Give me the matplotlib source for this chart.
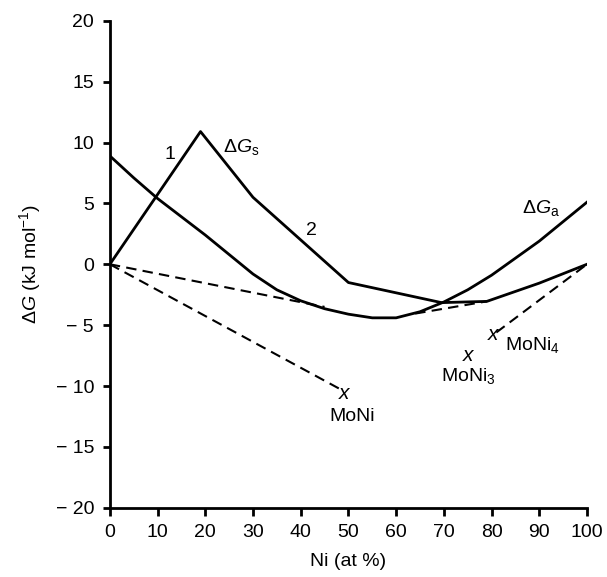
import matplotlib
matplotlib.use("Agg")
import matplotlib.pyplot as plt
from matplotlib.ticker import FuncFormatter

plt.rcParams['font.family'] = ['Liberation Sans', 'DejaVu Sans']
plt.rcParams['mathtext.fontset'] = 'custom'
plt.rcParams['mathtext.rm'] = 'Liberation Sans'
plt.rcParams['mathtext.it'] = 'Liberation Sans:italic'

# solid curves
gs_x = [0, 19, 30, 40, 50, 69.5, 79, 90, 100]
gs_y = [0, 10.9, 5.5, 2.0, -1.5, -3.15, -3.05, -1.55, 0]

ga_x = [0, 5, 10, 15, 20, 25, 30, 35, 40, 45, 50, 55, 60, 65, 70, 75, 80, 85, 90, 95, 100]
ga_y = [8.9, 7.1, 5.4, 3.9, 2.4, 0.8, -0.8, -2.1, -3.0, -3.65, -4.1, -4.4, -4.4, -3.9, -3.1, -2.1, -0.9, 0.5, 1.9, 3.5, 5.1]

# dashed tie lines
tie1_x, tie1_y = [0, 45], [0, -3.5]
tie2_x, tie2_y = [0, 48], [0, -10.2]
tie3_x, tie3_y = [64, 79], [-4.05, -3.05]
tie4_x, tie4_y = [81, 100], [-5.6, 0]

# compounds
comp_x = [49, 75, 80.3]
comp_y = [-10.6, -7.5, -5.8]


def minus_fmt(v, pos):
    if v < 0:
        return '\u2212 %d' % abs(v)
    return '%d' % v


fig = plt.figure(figsize=(6.07, 5.77), dpi=100)
ax = fig.add_axes([0.181, 0.12, 0.786, 0.844])

ax.plot(gs_x, gs_y, color='black', lw=2.0)
ax.plot(ga_x, ga_y, color='black', lw=2.0)
for tx, ty in [(tie1_x, tie1_y), (tie2_x, tie2_y), (tie3_x, tie3_y), (tie4_x, tie4_y)]:
    ax.plot(tx, ty, color='black', lw=1.5, ls=(0, (5, 3)))
for cx, cy in zip(comp_x, comp_y):
    ax.text(cx, cy, 'x', fontsize=15, style='italic', ha='center', va='center')

ax.text(12.6, 9.0, '1', fontsize=14, ha='center', va='center')
ax.text(27.5, 9.6, r'$\Delta G_\mathrm{s}$', fontsize=14, ha='center', va='center')
ax.text(42.3, 2.8, '2', fontsize=14, ha='center', va='center')
ax.text(90.3, 4.6, r'$\Delta G_\mathrm{a}$', fontsize=14, ha='center', va='center')
ax.text(50.7, -12.5, 'MoNi', fontsize=14, ha='center', va='center')
ax.text(75.2, -9.2, r'MoNi$_3$', fontsize=14, ha='center', va='center')
ax.text(88.6, -6.6, r'MoNi$_4$', fontsize=14, ha='center', va='center')

ax.set_xlim(0, 100)
ax.set_ylim(-20, 20)
ax.set_xticks(range(0, 101, 10))
ax.set_yticks(range(-20, 21, 5))
ax.yaxis.set_major_formatter(FuncFormatter(minus_fmt))
ax.spines['top'].set_visible(False)
ax.spines['right'].set_visible(False)
for s in ['left', 'bottom']:
    ax.spines[s].set_linewidth(2.0)
ax.tick_params(direction='out', length=5.4, width=2.0, labelsize=14, pad=6)
ax.set_xlabel('Ni (at %)', fontsize=14, labelpad=9)
ax.set_ylabel(r'$\Delta G$ (kJ mol$^{-1}$)', fontsize=14, labelpad=9)

fig.savefig('out.png', dpi=100)
